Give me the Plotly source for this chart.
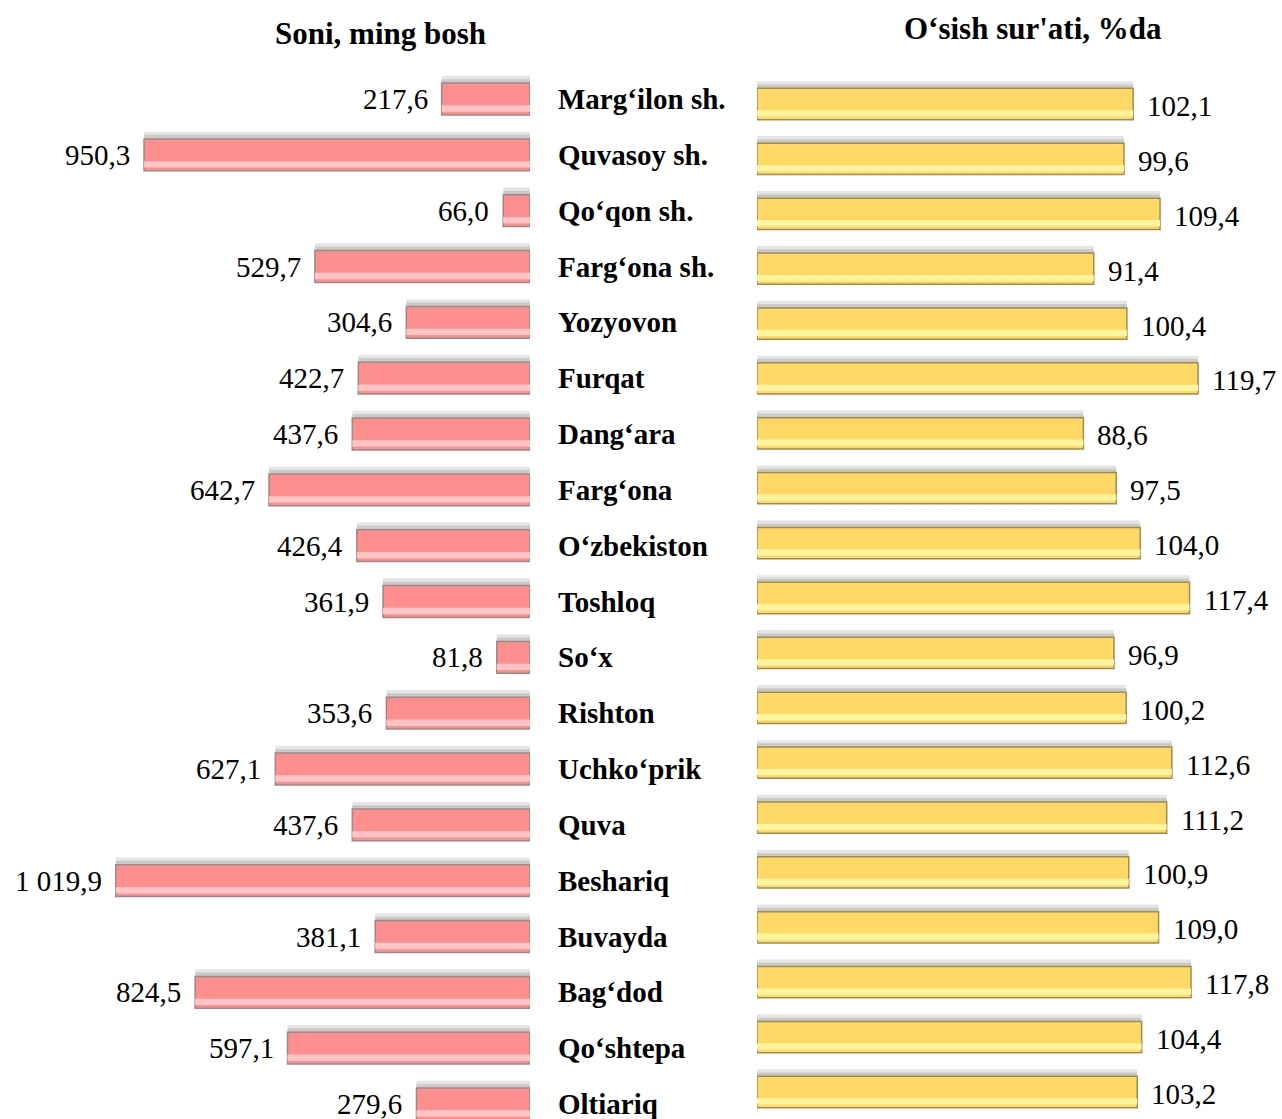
import plotly.graph_objects as go

regions = ["Marg‘ilon sh.", "Quvasoy sh.", "Qo‘qon sh.", "Farg‘ona sh.", "Yozyovon", "Furqat",
           "Dang‘ara", "Farg‘ona", "O‘zbekiston", "Toshloq", "So‘x", "Rishton", "Uchko‘prik",
           "Quva", "Beshariq", "Buvayda", "Bag‘dod", "Qo‘shtepa", "Oltiariq"]
count_values = [217.6, 950.3, 66.0, 529.7, 304.6, 422.7, 437.6, 642.7, 426.4, 361.9, 81.8,
                353.6, 627.1, 437.6, 1019.9, 381.1, 824.5, 597.1, 279.6]
count_labels = ["217,6", "950,3", "66,0", "529,7", "304,6", "422,7", "437,6", "642,7", "426,4",
                "361,9", "81,8", "353,6", "627,1", "437,6", "1 019,9", "381,1", "824,5", "597,1", "279,6"]
growth_values = [102.1, 99.6, 109.4, 91.4, 100.4, 119.7, 88.6, 97.5, 104.0, 117.4, 96.9,
                 100.2, 112.6, 111.2, 100.9, 109.0, 117.8, 104.4, 103.2]
growth_labels = ["102,1", "99,6", "109,4", "91,4", "100,4", "119,7", "88,6", "97,5", "104,0",
                 "117,4", "96,9", "100,2", "112,6", "111,2", "100,9", "109,0", "117,8", "104,4", "103,2"]
title_left = "Soni, ming bosh"
title_right = "O‘sish sur'ati, %da"

W, H = 1282, 1119
FONT = "Liberation Serif"

ypos = list(range(len(regions)))

fig = go.Figure()

def add_bars(values, xa, ya, wid, main, light, border):
    # soft shadow above the bar
    fig.add_trace(go.Bar(x=values, y=ypos, orientation="h", xaxis=xa, yaxis=ya,
                         width=wid, offset=-wid / 2 - 0.13,
                         marker=dict(color="rgba(0,0,0,0.10)", line=dict(width=0)),
                         hoverinfo="skip", showlegend=False))
    fig.add_trace(go.Bar(x=values, y=ypos, orientation="h", xaxis=xa, yaxis=ya,
                         width=wid, offset=-wid / 2 - 0.07,
                         marker=dict(color="rgba(0,0,0,0.12)", line=dict(width=0)),
                         hoverinfo="skip", showlegend=False))
    # main bar
    fig.add_trace(go.Bar(x=values, y=ypos, orientation="h", xaxis=xa, yaxis=ya,
                         width=wid, marker=dict(color=main, line=dict(color=border, width=1.5)),
                         showlegend=False))
    # bottom bevel highlight
    fig.add_trace(go.Bar(x=values, y=ypos, orientation="h", xaxis=xa, yaxis=ya,
                         width=wid * 0.2, offset=wid / 2 - wid * 0.3,
                         marker=dict(color=light, line=dict(width=0)),
                         hoverinfo="skip", showlegend=False))

add_bars(count_values, "x", "y", 0.57, "#FF8E8E", "#FFC4C4", "#9A8A8A")
add_bars(growth_values, "x2", "y2", 0.57, "#FFD866", "#FFF4A0", "#A08C50")

annotations = []
for i in ypos:
    annotations.append(dict(x=count_values[i], y=i, xref="x", yref="y", text=count_labels[i],
                            xanchor="right", yanchor="middle", xshift=-12, showarrow=False,
                            font=dict(family=FONT, size=29, color="#000")))
    annotations.append(dict(x=growth_values[i], y=i, xref="x2", yref="y2", text=growth_labels[i],
                            xanchor="left", yanchor="middle", xshift=12, yshift=-2, showarrow=False,
                            font=dict(family=FONT, size=29, color="#000")))
    annotations.append(dict(x=556 / W, y=i, xref="paper", yref="y", text="<b>" + regions[i] + "</b>",
                            xanchor="left", yanchor="middle", showarrow=False,
                            font=dict(family=FONT, size=29, color="#000")))

annotations.append(dict(x=380 / W, y=1 - 34 / H, xref="paper", yref="paper", text="<b>" + title_left + "</b>",
                        xanchor="center", yanchor="middle", showarrow=False,
                        font=dict(family=FONT, size=31, color="#000")))
annotations.append(dict(x=1033 / W, y=1 - 28 / H, xref="paper", yref="paper", text="<b>" + title_right + "</b>",
                        xanchor="center", yanchor="middle", showarrow=False,
                        font=dict(family=FONT, size=31, color="#000")))

def yrange(top_px, bot_px, n=len(regions)):
    scale = (bot_px - top_px) / (n - 1)
    top_val = -top_px / scale
    bottom_val = top_val + H / scale
    return [bottom_val, top_val]

fig.update_layout(
    width=W, height=H, margin=dict(l=0, r=0, t=0, b=0),
    paper_bgcolor="white", plot_bgcolor="white", barmode="overlay",
    xaxis=dict(domain=[0, 530 / W], range=[1305, 0], visible=False, fixedrange=True),
    yaxis=dict(domain=[0, 1], range=yrange(99, 1104), visible=False),
    xaxis2=dict(domain=[757 / W, 1], range=[0, 142.5], visible=False, anchor="y2"),
    yaxis2=dict(domain=[0, 1], range=yrange(104, 1092), visible=False, anchor="x2", overlaying="y"),
    annotations=annotations,
)

fig.write_html("out.html", config={"displayModeBar": False},
               post_script="document.body.style.margin='0';document.body.style.overflow='hidden';")
